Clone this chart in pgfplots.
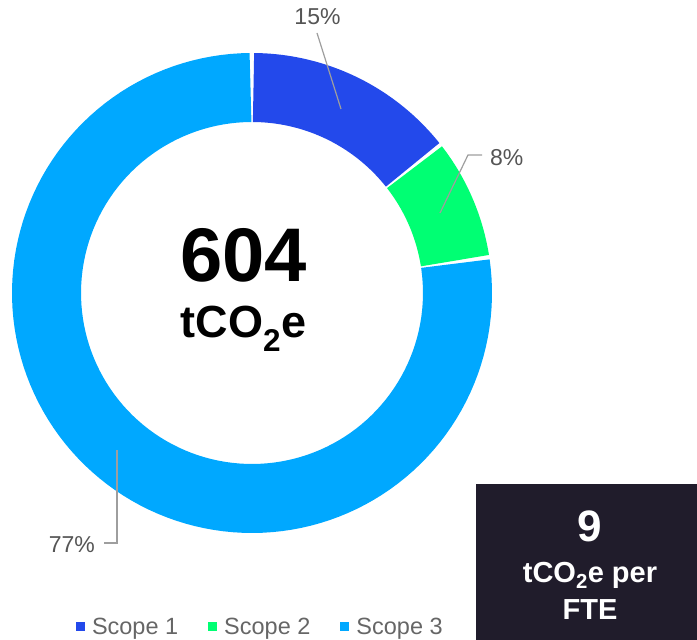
\documentclass[border=0pt]{standalone}
\usepackage{fontspec}
\setmainfont{Liberation Sans}
\usepackage{pgfplots}
\pgfplotsset{compat=1.18}
\usepackage{pgfplotstable}
\definecolor{scopeone}{HTML}{2349EB}
\definecolor{scopetwo}{HTML}{00FF73}
\definecolor{scopethree}{HTML}{00A8FF}
\definecolor{boxcol}{HTML}{201C2B}
\definecolor{labgray}{HTML}{555555}
\definecolor{leggray}{HTML}{666666}
\definecolor{linegray}{HTML}{9E9E9E}
\pgfplotstableread{
scope share
1 14.4
2 8.2
3 77.4
}\scopes
\begin{document}
\begin{tikzpicture}
\pgfplotstablegetelem{0}{share}\of\scopes\let\sA\pgfplotsretval
\pgfplotstablegetelem{1}{share}\of\scopes\let\sB\pgfplotsretval
\pgfmathsetmacro\aA{90-3.6*\sA}
\pgfmathsetmacro\aB{\aA-3.6*\sB}
\pgfmathsetmacro\dAs{\aA+0.42}
\pgfmathsetmacro\dAe{90-0.42}
\pgfmathsetmacro\dBs{\aB+0.42}
\pgfmathsetmacro\dBe{\aA-0.42}
\pgfmathsetmacro\dCs{-270+0.42}
\pgfmathsetmacro\dCe{\aB-0.42}
\begin{axis}[
  x=1pt, y=1pt,
  xmin=-252, xmax=445, ymin=-347, ymax=293,
  hide axis, clip=false,
  legend columns=3,
  legend cell align=left,
  legend image code/.code={\fill[#1, draw=none, line width=0pt] (0pt,-4.5pt) rectangle (9pt,4.5pt);},
  legend style={at={(axis cs:-176,-334)}, anchor=west, draw=none, fill=none,
    inner sep=0pt, outer sep=0pt,
    font=\fontsize{23.5}{27}\selectfont, text=leggray,
    nodes={inner sep=0pt},
    /tikz/every odd column/.append style={column sep=7pt},
    /tikz/every even column/.append style={column sep=30pt}},
]
\addplot[scopeone, line width=69pt, domain=\dAs:\dAe, samples=40] ({205.5*cos(x)},{205.5*sin(x)});
\addlegendentry{Scope 1}
\addplot[scopetwo, line width=69pt, domain=\dBs:\dBe, samples=30] ({205.5*cos(x)},{205.5*sin(x)});
\addlegendentry{Scope 2}
\addplot[scopethree, line width=69pt, domain=\dCs:\dCe, samples=120] ({205.5*cos(x)},{205.5*sin(x)});
\addlegendentry{Scope 3}
% leader lines
\draw[linegray, line width=1.2pt] (axis cs:89,184) -- (axis cs:65,260);
\draw[linegray, line width=1.2pt] (axis cs:188,80) -- (axis cs:216,138) -- (axis cs:230,138);
\draw[linegray, line width=1.2pt] (axis cs:-135,-157) -- (axis cs:-135,-250) -- (axis cs:-148,-250);
\node[text=labgray, font=\fontsize{23}{27}\selectfont, anchor=center] at (axis cs:65.5,276) {15\%};
\node[text=labgray, font=\fontsize{23}{27}\selectfont, anchor=west, inner sep=0pt] at (axis cs:238,135) {8\%};
\node[text=labgray, font=\fontsize{23}{27}\selectfont, anchor=east, inner sep=0pt] at (axis cs:-157,-252) {77\%};
% centre text
\node[anchor=base, inner sep=0pt, font=\fontsize{76}{76}\selectfont\bfseries] at (axis cs:-8.5,11) {604};
\node[anchor=base, inner sep=0pt, font=\fontsize{45}{45}\selectfont\bfseries] at (axis cs:-8.5,-45) {tCO\textsubscript{2}e};
% box
\fill[boxcol] (axis cs:224,-191) rectangle (axis cs:445,-347);
\node[anchor=base, inner sep=0pt, text=white, font=\fontsize{44}{44}\selectfont\bfseries] at (axis cs:338,-249) {9};
\node[anchor=base, inner sep=0pt, text=white, font=\fontsize{29}{29}\selectfont\bfseries] at (axis cs:338,-290) {tCO\textsubscript{2}e per};
\node[anchor=base, inner sep=0pt, text=white, font=\fontsize{29}{29}\selectfont\bfseries] at (axis cs:338,-327) {FTE};
\coordinate (bbbl) at (axis cs:-252,-347);
\coordinate (bbtr) at (axis cs:445,293);
\end{axis}
\pgfresetboundingbox
\path[use as bounding box] (bbbl) rectangle (bbtr);
\end{tikzpicture}
\end{document}
